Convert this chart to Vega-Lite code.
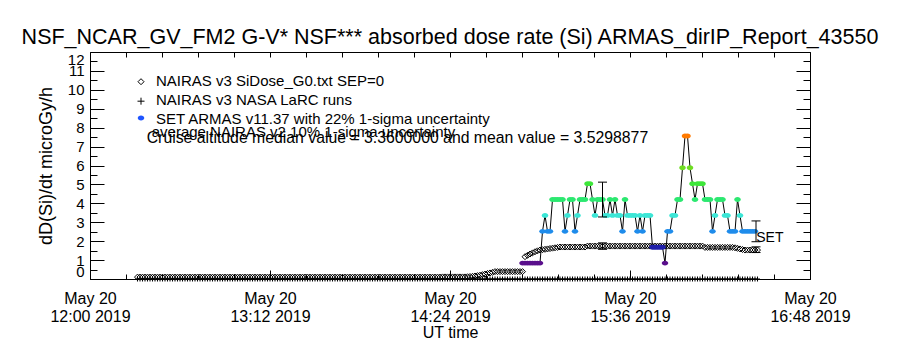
{
  "$schema": "https://vega.github.io/schema/vega-lite/v6.json",
  "width": 720,
  "height": 227,
  "autosize": {"type": "none"},
  "padding": {"left": 90, "top": 52, "right": 90, "bottom": 71},
  "background": "white",
  "title": {"text": "NSF_NCAR_GV_FM2 G-V* NSF*** absorbed dose rate (Si) ARMAS_dirIP_Report_43550", "font": "Liberation Sans", "fontSize": 21.5, "fontWeight": "normal", "color": "black", "anchor": "middle", "offset": 3},
  "config": {
    "font": "Liberation Sans",
    "view": {"stroke": "black", "strokeWidth": 1},
    "axis": {"domain": false, "grid": false, "labelColor": "black", "tickColor": "black", "titleColor": "black", "labelFont": "Liberation Sans", "titleFont": "Liberation Sans", "titleFontWeight": "normal"}
  },
  "datasets": {
    "nairas": [
      {"t":"2019-05-20T12:19","si":0.1,"larc":0},{"t":"2019-05-20T12:20","si":0.1,"larc":0},{"t":"2019-05-20T12:21","si":0.1,"larc":0},{"t":"2019-05-20T12:22","si":0.1,"larc":0},{"t":"2019-05-20T12:23","si":0.1,"larc":0},{"t":"2019-05-20T12:24","si":0.1,"larc":0},{"t":"2019-05-20T12:25","si":0.1,"larc":0},{"t":"2019-05-20T12:26","si":0.1,"larc":0},{"t":"2019-05-20T12:27","si":0.1,"larc":0},{"t":"2019-05-20T12:28","si":0.1,"larc":0},
      {"t":"2019-05-20T12:29","si":0.1,"larc":0},{"t":"2019-05-20T12:30","si":0.1,"larc":0},{"t":"2019-05-20T12:31","si":0.1,"larc":0},{"t":"2019-05-20T12:32","si":0.1,"larc":0},{"t":"2019-05-20T12:33","si":0.1,"larc":0},{"t":"2019-05-20T12:34","si":0.1,"larc":0},{"t":"2019-05-20T12:35","si":0.1,"larc":0},{"t":"2019-05-20T12:36","si":0.1,"larc":0},{"t":"2019-05-20T12:37","si":0.1,"larc":0},{"t":"2019-05-20T12:38","si":0.1,"larc":0},
      {"t":"2019-05-20T12:39","si":0.1,"larc":0},{"t":"2019-05-20T12:40","si":0.1,"larc":0},{"t":"2019-05-20T12:41","si":0.1,"larc":0},{"t":"2019-05-20T12:42","si":0.1,"larc":0},{"t":"2019-05-20T12:43","si":0.1,"larc":0},{"t":"2019-05-20T12:44","si":0.1,"larc":0},{"t":"2019-05-20T12:45","si":0.1,"larc":0},{"t":"2019-05-20T12:46","si":0.1,"larc":0},{"t":"2019-05-20T12:47","si":0.1,"larc":0},{"t":"2019-05-20T12:48","si":0.1,"larc":0},
      {"t":"2019-05-20T12:49","si":0.1,"larc":0},{"t":"2019-05-20T12:50","si":0.1,"larc":0},{"t":"2019-05-20T12:51","si":0.1,"larc":0},{"t":"2019-05-20T12:52","si":0.1,"larc":0},{"t":"2019-05-20T12:53","si":0.1,"larc":0},{"t":"2019-05-20T12:54","si":0.1,"larc":0},{"t":"2019-05-20T12:55","si":0.1,"larc":0},{"t":"2019-05-20T12:56","si":0.1,"larc":0},{"t":"2019-05-20T12:57","si":0.1,"larc":0},{"t":"2019-05-20T12:58","si":0.1,"larc":0},
      {"t":"2019-05-20T12:59","si":0.1,"larc":0},{"t":"2019-05-20T13:00","si":0.1,"larc":0},{"t":"2019-05-20T13:01","si":0.1,"larc":0},{"t":"2019-05-20T13:02","si":0.1,"larc":0},{"t":"2019-05-20T13:03","si":0.1,"larc":0},{"t":"2019-05-20T13:04","si":0.1,"larc":0},{"t":"2019-05-20T13:05","si":0.1,"larc":0},{"t":"2019-05-20T13:06","si":0.1,"larc":0},{"t":"2019-05-20T13:07","si":0.1,"larc":0},{"t":"2019-05-20T13:08","si":0.1,"larc":0},
      {"t":"2019-05-20T13:09","si":0.1,"larc":0},{"t":"2019-05-20T13:10","si":0.1,"larc":0},{"t":"2019-05-20T13:11","si":0.1,"larc":0},{"t":"2019-05-20T13:12","si":0.1,"larc":0},{"t":"2019-05-20T13:13","si":0.1,"larc":0},{"t":"2019-05-20T13:14","si":0.1,"larc":0},{"t":"2019-05-20T13:15","si":0.1,"larc":0},{"t":"2019-05-20T13:16","si":0.1,"larc":0},{"t":"2019-05-20T13:17","si":0.1,"larc":0},{"t":"2019-05-20T13:18","si":0.1,"larc":0},
      {"t":"2019-05-20T13:19","si":0.1,"larc":0},{"t":"2019-05-20T13:20","si":0.1,"larc":0},{"t":"2019-05-20T13:21","si":0.1,"larc":0},{"t":"2019-05-20T13:22","si":0.1,"larc":0},{"t":"2019-05-20T13:23","si":0.1,"larc":0},{"t":"2019-05-20T13:24","si":0.1,"larc":0},{"t":"2019-05-20T13:25","si":0.1,"larc":0},{"t":"2019-05-20T13:26","si":0.1,"larc":0},{"t":"2019-05-20T13:27","si":0.1,"larc":0},{"t":"2019-05-20T13:28","si":0.1,"larc":0},
      {"t":"2019-05-20T13:29","si":0.1,"larc":0},{"t":"2019-05-20T13:30","si":0.1,"larc":0},{"t":"2019-05-20T13:31","si":0.1,"larc":0},{"t":"2019-05-20T13:32","si":0.1,"larc":0},{"t":"2019-05-20T13:33","si":0.1,"larc":0},{"t":"2019-05-20T13:34","si":0.1,"larc":0},{"t":"2019-05-20T13:35","si":0.1,"larc":0},{"t":"2019-05-20T13:36","si":0.1,"larc":0},{"t":"2019-05-20T13:37","si":0.1,"larc":0},{"t":"2019-05-20T13:38","si":0.1,"larc":0},
      {"t":"2019-05-20T13:39","si":0.1,"larc":0},{"t":"2019-05-20T13:40","si":0.1,"larc":0},{"t":"2019-05-20T13:41","si":0.1,"larc":0},{"t":"2019-05-20T13:42","si":0.1,"larc":0},{"t":"2019-05-20T13:43","si":0.1,"larc":0},{"t":"2019-05-20T13:44","si":0.1,"larc":0},{"t":"2019-05-20T13:45","si":0.1,"larc":0},{"t":"2019-05-20T13:46","si":0.1,"larc":0},{"t":"2019-05-20T13:47","si":0.1,"larc":0},{"t":"2019-05-20T13:48","si":0.1,"larc":0},
      {"t":"2019-05-20T13:49","si":0.1,"larc":0},{"t":"2019-05-20T13:50","si":0.1,"larc":0},{"t":"2019-05-20T13:51","si":0.1,"larc":0},{"t":"2019-05-20T13:52","si":0.1,"larc":0},{"t":"2019-05-20T13:53","si":0.1,"larc":0},{"t":"2019-05-20T13:54","si":0.1,"larc":0},{"t":"2019-05-20T13:55","si":0.1,"larc":0},{"t":"2019-05-20T13:56","si":0.1,"larc":0},{"t":"2019-05-20T13:57","si":0.1,"larc":0},{"t":"2019-05-20T13:58","si":0.1,"larc":0},
      {"t":"2019-05-20T13:59","si":0.1,"larc":0},{"t":"2019-05-20T14:00","si":0.1,"larc":0},{"t":"2019-05-20T14:01","si":0.1,"larc":0},{"t":"2019-05-20T14:02","si":0.1,"larc":0},{"t":"2019-05-20T14:03","si":0.1,"larc":0},{"t":"2019-05-20T14:04","si":0.1,"larc":0},{"t":"2019-05-20T14:05","si":0.1,"larc":0},{"t":"2019-05-20T14:06","si":0.1,"larc":0},{"t":"2019-05-20T14:07","si":0.1,"larc":0},{"t":"2019-05-20T14:08","si":0.1,"larc":0},
      {"t":"2019-05-20T14:09","si":0.1,"larc":0},{"t":"2019-05-20T14:10","si":0.1,"larc":0},{"t":"2019-05-20T14:11","si":0.1,"larc":0},{"t":"2019-05-20T14:12","si":0.1,"larc":0},{"t":"2019-05-20T14:13","si":0.1,"larc":0},{"t":"2019-05-20T14:14","si":0.1,"larc":0},{"t":"2019-05-20T14:15","si":0.1,"larc":0},{"t":"2019-05-20T14:16","si":0.1,"larc":0},{"t":"2019-05-20T14:17","si":0.1,"larc":0},{"t":"2019-05-20T14:18","si":0.1,"larc":0},
      {"t":"2019-05-20T14:19","si":0.1,"larc":0},{"t":"2019-05-20T14:20","si":0.1,"larc":0},{"t":"2019-05-20T14:21","si":0.11,"larc":0},{"t":"2019-05-20T14:22","si":0.11,"larc":0},{"t":"2019-05-20T14:23","si":0.11,"larc":0},{"t":"2019-05-20T14:24","si":0.11,"larc":0},{"t":"2019-05-20T14:25","si":0.11,"larc":0},{"t":"2019-05-20T14:26","si":0.11,"larc":0},{"t":"2019-05-20T14:27","si":0.11,"larc":0},{"t":"2019-05-20T14:28","si":0.11,"larc":0},
      {"t":"2019-05-20T14:29","si":0.11,"larc":0},{"t":"2019-05-20T14:30","si":0.11,"larc":0},{"t":"2019-05-20T14:31","si":0.12,"larc":0},{"t":"2019-05-20T14:32","si":0.13,"larc":0},{"t":"2019-05-20T14:33","si":0.14,"larc":0},{"t":"2019-05-20T14:34","si":0.16,"larc":0},{"t":"2019-05-20T14:35","si":0.18,"larc":0},{"t":"2019-05-20T14:36","si":0.2,"larc":0},{"t":"2019-05-20T14:37","si":0.23,"larc":0},{"t":"2019-05-20T14:38","si":0.26,"larc":0},
      {"t":"2019-05-20T14:39","si":0.29,"larc":0},{"t":"2019-05-20T14:40","si":0.32,"larc":0},{"t":"2019-05-20T14:41","si":0.35,"larc":0},{"t":"2019-05-20T14:42","si":0.39,"larc":0},{"t":"2019-05-20T14:43","si":0.39,"larc":0},{"t":"2019-05-20T14:44","si":0.39,"larc":0},{"t":"2019-05-20T14:45","si":0.39,"larc":0},{"t":"2019-05-20T14:46","si":0.39,"larc":0},{"t":"2019-05-20T14:47","si":0.39,"larc":0},{"t":"2019-05-20T14:48","si":0.39,"larc":0},
      {"t":"2019-05-20T14:49","si":0.39,"larc":0},{"t":"2019-05-20T14:50","si":0.39,"larc":0},{"t":"2019-05-20T14:51","si":0.39,"larc":0},{"t":"2019-05-20T14:52","si":0.39,"larc":0},{"t":"2019-05-20T14:53","si":0.39,"larc":0},{"t":"2019-05-20T14:54","si":1.18,"larc":0},{"t":"2019-05-20T14:55","si":1.25,"larc":0},{"t":"2019-05-20T14:56","si":1.32,"larc":0},{"t":"2019-05-20T14:57","si":1.38,"larc":0},{"t":"2019-05-20T14:58","si":1.44,"larc":0},
      {"t":"2019-05-20T14:59","si":1.49,"larc":0},{"t":"2019-05-20T15:00","si":1.53,"larc":0},{"t":"2019-05-20T15:01","si":1.55,"larc":0},{"t":"2019-05-20T15:02","si":1.57,"larc":0},{"t":"2019-05-20T15:03","si":1.59,"larc":0},{"t":"2019-05-20T15:04","si":1.61,"larc":0},{"t":"2019-05-20T15:05","si":1.63,"larc":0},{"t":"2019-05-20T15:06","si":1.65,"larc":0},{"t":"2019-05-20T15:07","si":1.67,"larc":0},{"t":"2019-05-20T15:08","si":1.69,"larc":0},
      {"t":"2019-05-20T15:09","si":1.69,"larc":0},{"t":"2019-05-20T15:10","si":1.69,"larc":0},{"t":"2019-05-20T15:11","si":1.69,"larc":0},{"t":"2019-05-20T15:12","si":1.69,"larc":0},{"t":"2019-05-20T15:13","si":1.69,"larc":0},{"t":"2019-05-20T15:14","si":1.69,"larc":0},{"t":"2019-05-20T15:15","si":1.69,"larc":0},{"t":"2019-05-20T15:16","si":1.69,"larc":0},{"t":"2019-05-20T15:17","si":1.69,"larc":0},{"t":"2019-05-20T15:18","si":1.69,"larc":0},
      {"t":"2019-05-20T15:19","si":1.74,"larc":0},{"t":"2019-05-20T15:20","si":1.74,"larc":0},{"t":"2019-05-20T15:21","si":1.74,"larc":0},{"t":"2019-05-20T15:22","si":1.74,"larc":0},{"t":"2019-05-20T15:23","si":1.74,"larc":0},{"t":"2019-05-20T15:24","si":1.74,"larc":0},{"t":"2019-05-20T15:25","si":1.74,"larc":0},{"t":"2019-05-20T15:26","si":1.74,"larc":0},{"t":"2019-05-20T15:27","si":1.74,"larc":0},{"t":"2019-05-20T15:28","si":1.74,"larc":0},
      {"t":"2019-05-20T15:29","si":1.74,"larc":0},{"t":"2019-05-20T15:30","si":1.74,"larc":0},{"t":"2019-05-20T15:31","si":1.74,"larc":0},{"t":"2019-05-20T15:32","si":1.74,"larc":0},{"t":"2019-05-20T15:33","si":1.74,"larc":0},{"t":"2019-05-20T15:34","si":1.74,"larc":0},{"t":"2019-05-20T15:35","si":1.74,"larc":0},{"t":"2019-05-20T15:36","si":1.74,"larc":0},{"t":"2019-05-20T15:37","si":1.74,"larc":0},{"t":"2019-05-20T15:38","si":1.74,"larc":0},
      {"t":"2019-05-20T15:39","si":1.74,"larc":0},{"t":"2019-05-20T15:40","si":1.74,"larc":0},{"t":"2019-05-20T15:41","si":1.74,"larc":0},{"t":"2019-05-20T15:42","si":1.74,"larc":0},{"t":"2019-05-20T15:43","si":1.74,"larc":0},{"t":"2019-05-20T15:44","si":1.74,"larc":0},{"t":"2019-05-20T15:45","si":1.74,"larc":0},{"t":"2019-05-20T15:46","si":1.74,"larc":0},{"t":"2019-05-20T15:47","si":1.74,"larc":0},{"t":"2019-05-20T15:48","si":1.74,"larc":0},
      {"t":"2019-05-20T15:49","si":1.74,"larc":0},{"t":"2019-05-20T15:50","si":1.74,"larc":0},{"t":"2019-05-20T15:51","si":1.74,"larc":0},{"t":"2019-05-20T15:52","si":1.74,"larc":0},{"t":"2019-05-20T15:53","si":1.74,"larc":0},{"t":"2019-05-20T15:54","si":1.74,"larc":0},{"t":"2019-05-20T15:55","si":1.74,"larc":0},{"t":"2019-05-20T15:56","si":1.74,"larc":0},{"t":"2019-05-20T15:57","si":1.74,"larc":0},{"t":"2019-05-20T15:58","si":1.74,"larc":0},
      {"t":"2019-05-20T15:59","si":1.74,"larc":0},{"t":"2019-05-20T16:00","si":1.74,"larc":0},{"t":"2019-05-20T16:01","si":1.74,"larc":0},{"t":"2019-05-20T16:02","si":1.74,"larc":0},{"t":"2019-05-20T16:03","si":1.74,"larc":0},{"t":"2019-05-20T16:04","si":1.74,"larc":0},{"t":"2019-05-20T16:05","si":1.74,"larc":0},{"t":"2019-05-20T16:06","si":1.67,"larc":0},{"t":"2019-05-20T16:07","si":1.67,"larc":0},{"t":"2019-05-20T16:08","si":1.67,"larc":0},
      {"t":"2019-05-20T16:09","si":1.67,"larc":0},{"t":"2019-05-20T16:10","si":1.67,"larc":0},{"t":"2019-05-20T16:11","si":1.67,"larc":0},{"t":"2019-05-20T16:12","si":1.67,"larc":0},{"t":"2019-05-20T16:13","si":1.67,"larc":0},{"t":"2019-05-20T16:14","si":1.67,"larc":0},{"t":"2019-05-20T16:15","si":1.67,"larc":0},{"t":"2019-05-20T16:16","si":1.67,"larc":0},{"t":"2019-05-20T16:17","si":1.67,"larc":0},{"t":"2019-05-20T16:18","si":1.65,"larc":0},
      {"t":"2019-05-20T16:19","si":1.62,"larc":0},{"t":"2019-05-20T16:20","si":1.59,"larc":0},{"t":"2019-05-20T16:21","si":1.56,"larc":0},{"t":"2019-05-20T16:22","si":1.53,"larc":0},{"t":"2019-05-20T16:23","si":1.53,"larc":0},{"t":"2019-05-20T16:24","si":1.53,"larc":0},{"t":"2019-05-20T16:25","si":1.53,"larc":0},{"t":"2019-05-20T16:26","si":1.53,"larc":0},{"t":"2019-05-20T16:27","si":1.53,"larc":0}
    ],
    "armas": [
      {"t":"2019-05-20T14:53","v":0.84},{"t":"2019-05-20T14:54","v":0.84},{"t":"2019-05-20T14:55","v":0.84},{"t":"2019-05-20T14:56","v":0.84},{"t":"2019-05-20T14:57","v":0.84},{"t":"2019-05-20T14:58","v":0.84},{"t":"2019-05-20T14:59","v":0.84},{"t":"2019-05-20T15:00","v":0.84},
      {"t":"2019-05-20T15:01","v":2.52},{"t":"2019-05-20T15:02","v":3.36},{"t":"2019-05-20T15:03","v":2.52},{"t":"2019-05-20T15:04","v":2.52},{"t":"2019-05-20T15:05","v":4.2},{"t":"2019-05-20T15:06","v":4.2},{"t":"2019-05-20T15:07","v":4.2},{"t":"2019-05-20T15:08","v":4.2},{"t":"2019-05-20T15:09","v":4.2},{"t":"2019-05-20T15:10","v":2.52},
      {"t":"2019-05-20T15:11","v":3.36},{"t":"2019-05-20T15:12","v":4.2},{"t":"2019-05-20T15:13","v":4.2},{"t":"2019-05-20T15:14","v":2.52},{"t":"2019-05-20T15:15","v":3.36},{"t":"2019-05-20T15:16","v":4.2},{"t":"2019-05-20T15:17","v":4.2},{"t":"2019-05-20T15:18","v":4.2},{"t":"2019-05-20T15:19","v":5.04},{"t":"2019-05-20T15:20","v":5.04},
      {"t":"2019-05-20T15:21","v":4.2},{"t":"2019-05-20T15:22","v":3.36},{"t":"2019-05-20T15:23","v":4.2},{"t":"2019-05-20T15:24","v":4.2},{"t":"2019-05-20T15:25","v":4.2},{"t":"2019-05-20T15:26","v":3.36},{"t":"2019-05-20T15:27","v":3.36},{"t":"2019-05-20T15:28","v":4.2},{"t":"2019-05-20T15:29","v":3.36},{"t":"2019-05-20T15:30","v":4.2},
      {"t":"2019-05-20T15:31","v":3.36},{"t":"2019-05-20T15:32","v":3.36},{"t":"2019-05-20T15:33","v":2.52},{"t":"2019-05-20T15:34","v":4.2},{"t":"2019-05-20T15:35","v":3.36},{"t":"2019-05-20T15:36","v":3.36},{"t":"2019-05-20T15:37","v":3.36},{"t":"2019-05-20T15:38","v":3.36},{"t":"2019-05-20T15:39","v":2.52},{"t":"2019-05-20T15:40","v":3.36},
      {"t":"2019-05-20T15:41","v":2.52},{"t":"2019-05-20T15:42","v":3.36},{"t":"2019-05-20T15:43","v":3.36},{"t":"2019-05-20T15:44","v":3.36},{"t":"2019-05-20T15:45","v":1.68},{"t":"2019-05-20T15:46","v":1.68},{"t":"2019-05-20T15:47","v":1.68},{"t":"2019-05-20T15:48","v":1.68},{"t":"2019-05-20T15:49","v":1.68},{"t":"2019-05-20T15:50","v":0.84},
      {"t":"2019-05-20T15:51","v":2.52},{"t":"2019-05-20T15:52","v":2.52},{"t":"2019-05-20T15:53","v":3.36},{"t":"2019-05-20T15:54","v":3.36},{"t":"2019-05-20T15:55","v":4.2},{"t":"2019-05-20T15:56","v":4.2},{"t":"2019-05-20T15:57","v":5.88},{"t":"2019-05-20T15:58","v":7.56},{"t":"2019-05-20T15:59","v":7.56},{"t":"2019-05-20T16:00","v":5.88},
      {"t":"2019-05-20T16:01","v":5.04},{"t":"2019-05-20T16:02","v":4.2},{"t":"2019-05-20T16:03","v":5.04},{"t":"2019-05-20T16:04","v":5.04},{"t":"2019-05-20T16:05","v":5.04},{"t":"2019-05-20T16:06","v":4.2},{"t":"2019-05-20T16:07","v":4.2},{"t":"2019-05-20T16:08","v":4.2},{"t":"2019-05-20T16:09","v":2.52},{"t":"2019-05-20T16:10","v":3.36},
      {"t":"2019-05-20T16:11","v":4.2},{"t":"2019-05-20T16:12","v":4.2},{"t":"2019-05-20T16:13","v":4.2},{"t":"2019-05-20T16:14","v":3.36},{"t":"2019-05-20T16:15","v":3.36},{"t":"2019-05-20T16:16","v":2.52},{"t":"2019-05-20T16:17","v":2.52},{"t":"2019-05-20T16:18","v":2.52},{"t":"2019-05-20T16:19","v":4.2},{"t":"2019-05-20T16:20","v":3.36},
      {"t":"2019-05-20T16:21","v":2.52},{"t":"2019-05-20T16:22","v":2.52},{"t":"2019-05-20T16:23","v":2.52},{"t":"2019-05-20T16:24","v":2.52},{"t":"2019-05-20T16:25","v":2.52},{"t":"2019-05-20T16:26","v":2.52}
    ],
    "errs": [
      {"t":"2019-05-20T15:25","lo":3.28,"hi":5.12},
      {"t":"2019-05-20T16:26:24","lo":1.97,"hi":3.07},
      {"t":"2019-05-20T15:25","lo":1.57,"hi":1.91},
      {"t":"2019-05-20T16:26:24","lo":1.4,"hi":1.7}
    ]
  },
  "resolve": {"axis": {"x": "independent", "y": "independent"}},
  "layer": [
    {
      "data": {"name": "nairas"},
      "mark": {"type": "point", "shape": "diamond", "filled": false, "color": "black", "size": 36, "strokeWidth": 1, "opacity": 1},
      "encoding": {
        "x": {"field": "t", "type": "temporal",
          "scale": {"domain": [{"year":2019,"month":5,"date":20,"hours":12,"minutes":0}, {"year":2019,"month":5,"date":20,"hours":16,"minutes":48}]},
          "axis": {"orient": "bottom", "tickSize": -9, "tickColor": "black", "labelFlush": false, "labelOverlap": false, "labelBound": false,
            "values": [{"year":2019,"month":5,"date":20,"hours":12,"minutes":0},{"year":2019,"month":5,"date":20,"hours":13,"minutes":12},{"year":2019,"month":5,"date":20,"hours":14,"minutes":24},{"year":2019,"month":5,"date":20,"hours":15,"minutes":36},{"year":2019,"month":5,"date":20,"hours":16,"minutes":48}],
            "labelExpr": "[timeFormat(datum.value, '%b %d'), timeFormat(datum.value, '%H:%M %Y')]",
            "labelFontSize": 16, "labelLineHeight": 18, "labelPadding": 20,
            "title": "UT time", "titleFontSize": 16, "titlePadding": 0}},
        "y": {"field": "si", "type": "quantitative",
          "scale": {"domain": [0, 12], "nice": false, "zero": false},
          "axis": {"orient": "left", "tickSize": -14, "tickColor": "black", "values": [0,1,2,3,4,5,6,7,8,9,10,11,12], "labelFontSize": 15, "labelPadding": 20, "labelFlush": true, "labelOverlap": false,
            "title": "dD(Si)/dt microGy/h", "titleFontSize": 18, "titlePadding": 12}}
      }
    },
    {
      "data": {"name": "nairas"},
      "mark": {"type": "point", "shape": "M-1,0L1,0M0,-1L0,1", "filled": false, "color": "black", "size": 25, "strokeWidth": 1, "opacity": 1},
      "encoding": {
        "x": {"field": "t", "type": "temporal",
          "axis": {"orient": "bottom", "labels": false, "title": null, "tickSize": -5, "tickColor": "black",
            "values": [{"year":2019,"month":5,"date":20,"hours":12,"minutes":0,"seconds":0},{"year":2019,"month":5,"date":20,"hours":12,"minutes":14,"seconds":24},{"year":2019,"month":5,"date":20,"hours":12,"minutes":28,"seconds":48},{"year":2019,"month":5,"date":20,"hours":12,"minutes":43,"seconds":12},{"year":2019,"month":5,"date":20,"hours":12,"minutes":57,"seconds":36},{"year":2019,"month":5,"date":20,"hours":13,"minutes":12,"seconds":0},{"year":2019,"month":5,"date":20,"hours":13,"minutes":26,"seconds":24},{"year":2019,"month":5,"date":20,"hours":13,"minutes":40,"seconds":48},{"year":2019,"month":5,"date":20,"hours":13,"minutes":55,"seconds":12},{"year":2019,"month":5,"date":20,"hours":14,"minutes":9,"seconds":36},{"year":2019,"month":5,"date":20,"hours":14,"minutes":24,"seconds":0},{"year":2019,"month":5,"date":20,"hours":14,"minutes":38,"seconds":24},{"year":2019,"month":5,"date":20,"hours":14,"minutes":52,"seconds":48},{"year":2019,"month":5,"date":20,"hours":15,"minutes":7,"seconds":12},{"year":2019,"month":5,"date":20,"hours":15,"minutes":21,"seconds":36},{"year":2019,"month":5,"date":20,"hours":15,"minutes":36,"seconds":0},{"year":2019,"month":5,"date":20,"hours":15,"minutes":50,"seconds":24},{"year":2019,"month":5,"date":20,"hours":16,"minutes":4,"seconds":48},{"year":2019,"month":5,"date":20,"hours":16,"minutes":19,"seconds":12},{"year":2019,"month":5,"date":20,"hours":16,"minutes":33,"seconds":36},{"year":2019,"month":5,"date":20,"hours":16,"minutes":48,"seconds":0}]}},
        "y": {"field": "larc", "type": "quantitative",
          "axis": {"orient": "left", "labels": false, "title": null, "tickSize": -7, "tickColor": "black",
            "values": [0.5,1.5,2.5,3.5,4.5,5.5,6.5,7.5,8.5,9.5,10.5,11.5]}}
      }
    },
    {
      "data": {"name": "armas"},
      "mark": {"type": "line", "color": "black", "strokeWidth": 1},
      "encoding": {
        "x": {"field": "t", "type": "temporal",
          "axis": {"orient": "top", "labels": false, "title": null, "tickSize": -5, "tickColor": "black",
            "values": [{"year":2019,"month":5,"date":20,"hours":12,"minutes":0,"seconds":0},{"year":2019,"month":5,"date":20,"hours":12,"minutes":14,"seconds":24},{"year":2019,"month":5,"date":20,"hours":12,"minutes":28,"seconds":48},{"year":2019,"month":5,"date":20,"hours":12,"minutes":43,"seconds":12},{"year":2019,"month":5,"date":20,"hours":12,"minutes":57,"seconds":36},{"year":2019,"month":5,"date":20,"hours":13,"minutes":12,"seconds":0},{"year":2019,"month":5,"date":20,"hours":13,"minutes":26,"seconds":24},{"year":2019,"month":5,"date":20,"hours":13,"minutes":40,"seconds":48},{"year":2019,"month":5,"date":20,"hours":13,"minutes":55,"seconds":12},{"year":2019,"month":5,"date":20,"hours":14,"minutes":9,"seconds":36},{"year":2019,"month":5,"date":20,"hours":14,"minutes":24,"seconds":0},{"year":2019,"month":5,"date":20,"hours":14,"minutes":38,"seconds":24},{"year":2019,"month":5,"date":20,"hours":14,"minutes":52,"seconds":48},{"year":2019,"month":5,"date":20,"hours":15,"minutes":7,"seconds":12},{"year":2019,"month":5,"date":20,"hours":15,"minutes":21,"seconds":36},{"year":2019,"month":5,"date":20,"hours":15,"minutes":36,"seconds":0},{"year":2019,"month":5,"date":20,"hours":15,"minutes":50,"seconds":24},{"year":2019,"month":5,"date":20,"hours":16,"minutes":4,"seconds":48},{"year":2019,"month":5,"date":20,"hours":16,"minutes":19,"seconds":12},{"year":2019,"month":5,"date":20,"hours":16,"minutes":33,"seconds":36},{"year":2019,"month":5,"date":20,"hours":16,"minutes":48,"seconds":0}]}},
        "y": {"field": "v", "type": "quantitative",
          "axis": {"orient": "right", "labels": false, "title": null, "tickSize": -14, "tickColor": "black",
            "values": [0,1,2,3,4,5,6,7,8,9,10,11,12]}}
      }
    },
    {
      "data": {"name": "armas"},
      "mark": {"type": "point", "shape": "M-1,0A1,0.75,0,1,0,1,0A1,0.75,0,1,0,-1,0Z", "filled": true, "size": 42, "opacity": 1},
      "encoding": {
        "x": {"field": "t", "type": "temporal", "axis": null},
        "y": {"field": "v", "type": "quantitative",
          "axis": {"orient": "right", "labels": false, "title": null, "tickSize": -7, "tickColor": "black",
            "values": [0.5,1.5,2.5,3.5,4.5,5.5,6.5,7.5,8.5,9.5,10.5,11.5]}},
        "color": {"field": "v", "type": "quantitative", "legend": null,
          "scale": {"domain": [0.84, 1.68, 2.52, 3.36, 4.2, 5.04, 5.88, 7.56], "range": ["#5a0f8c", "#1e1eaa", "#1f8ceb", "#3ce6d6", "#2ce870", "#3ee63a", "#6edc22", "#ff7a00"]}}
      }
    },
    {
      "data": {"name": "errs"},
      "mark": {"type": "rule", "color": "black", "strokeWidth": 1},
      "encoding": {
        "x": {"field": "t", "type": "temporal", "axis": null},
        "y": {"field": "lo", "type": "quantitative", "axis": null},
        "y2": {"field": "hi"}
      }
    },
    {
      "data": {"name": "errs"},
      "mark": {"type": "point", "shape": "M-1,0L1,0", "filled": false, "color": "black", "size": 81, "strokeWidth": 1, "opacity": 1},
      "encoding": {
        "x": {"field": "t", "type": "temporal", "axis": null},
        "y": {"field": "lo", "type": "quantitative", "axis": null}
      }
    },
    {
      "data": {"name": "errs"},
      "mark": {"type": "point", "shape": "M-1,0L1,0", "filled": false, "color": "black", "size": 81, "strokeWidth": 1, "opacity": 1},
      "encoding": {
        "x": {"field": "t", "type": "temporal", "axis": null},
        "y": {"field": "hi", "type": "quantitative", "axis": null}
      }
    },
    {
      "data": {"values": [{}]},
      "mark": {"type": "text", "text": "SET", "align": "left", "baseline": "middle", "font": "Liberation Sans", "fontSize": 14, "color": "black"},
      "encoding": {
        "x": {"datum": {"year":2019,"month":5,"date":20,"hours":16,"minutes":26,"seconds":30}, "type": "temporal", "axis": null},
        "y": {"datum": 2.17, "type": "quantitative", "axis": null}
      }
    },
    {
      "data": {"values": [{}]},
      "mark": {"type": "point", "shape": "diamond", "filled": false, "color": "black", "size": 36, "strokeWidth": 1, "opacity": 1},
      "encoding": {
        "x": {"datum": {"year":2019,"month":5,"date":20,"hours":12,"minutes":20,"seconds":24}, "type": "temporal", "axis": null},
        "y": {"datum": 10.43, "type": "quantitative", "axis": null}
      }
    },
    {
      "data": {"values": [{}]},
      "mark": {"type": "point", "shape": "M-1,0L1,0M0,-1L0,1", "filled": false, "color": "black", "size": 49, "strokeWidth": 1, "opacity": 1},
      "encoding": {
        "x": {"datum": {"year":2019,"month":5,"date":20,"hours":12,"minutes":20,"seconds":24}, "type": "temporal", "axis": null},
        "y": {"datum": 9.4, "type": "quantitative", "axis": null}
      }
    },
    {
      "data": {"values": [{}]},
      "mark": {"type": "point", "shape": "M-1,0A1,0.75,0,1,0,1,0A1,0.75,0,1,0,-1,0Z", "filled": true, "color": "#1f55ff", "size": 42, "opacity": 1},
      "encoding": {
        "x": {"datum": {"year":2019,"month":5,"date":20,"hours":12,"minutes":20,"seconds":24}, "type": "temporal", "axis": null},
        "y": {"datum": 8.51, "type": "quantitative", "axis": null}
      }
    },
    {
      "data": {"values": [{}]},
      "mark": {"type": "text", "text": "NAIRAS v3 SiDose_G0.txt SEP=0", "align": "left", "baseline": "middle", "font": "Liberation Sans", "fontSize": 15, "color": "black"},
      "encoding": {
        "x": {"datum": {"year":2019,"month":5,"date":20,"hours":12,"minutes":26,"seconds":24}, "type": "temporal", "axis": null},
        "y": {"datum": 10.47, "type": "quantitative", "axis": null}
      }
    },
    {
      "data": {"values": [{}]},
      "mark": {"type": "text", "text": "NAIRAS v3 NASA LaRC runs", "align": "left", "baseline": "middle", "font": "Liberation Sans", "fontSize": 15, "color": "black"},
      "encoding": {
        "x": {"datum": {"year":2019,"month":5,"date":20,"hours":12,"minutes":26,"seconds":24}, "type": "temporal", "axis": null},
        "y": {"datum": 9.46, "type": "quantitative", "axis": null}
      }
    },
    {
      "data": {"values": [{}]},
      "mark": {"type": "text", "text": "SET ARMAS v11.37 with 22% 1-sigma uncertainty", "align": "left", "baseline": "middle", "font": "Liberation Sans", "fontSize": 15, "color": "black"},
      "encoding": {
        "x": {"datum": {"year":2019,"month":5,"date":20,"hours":12,"minutes":26,"seconds":24}, "type": "temporal", "axis": null},
        "y": {"datum": 8.46, "type": "quantitative", "axis": null}
      }
    },
    {
      "data": {"values": [{}]},
      "mark": {"type": "text", "text": "average NAIRAS v2 10% 1-sigma uncertainty", "align": "left", "baseline": "middle", "font": "Liberation Sans", "fontSize": 15, "color": "black"},
      "encoding": {
        "x": {"datum": {"year":2019,"month":5,"date":20,"hours":12,"minutes":24,"seconds":41}, "type": "temporal", "axis": null},
        "y": {"datum": 7.77, "type": "quantitative", "axis": null}
      }
    },
    {
      "data": {"values": [{}]},
      "mark": {"type": "text", "text": "Cruise altitude median value = 3.3600000 and mean value = 3.5298877", "align": "left", "baseline": "middle", "font": "Liberation Sans", "fontSize": 15.8, "color": "black"},
      "encoding": {
        "x": {"datum": {"year":2019,"month":5,"date":20,"hours":12,"minutes":22,"seconds":41}, "type": "temporal", "axis": null},
        "y": {"datum": 7.48, "type": "quantitative", "axis": null}
      }
    }
  ]
}
